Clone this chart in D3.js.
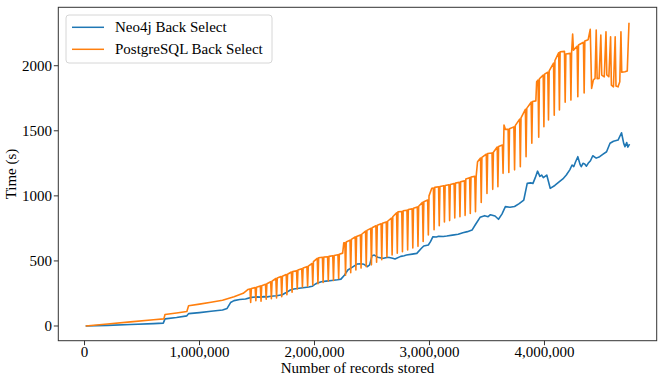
<!DOCTYPE html>
<html>
<head>
<meta charset="utf-8">
<script src="https://cdn.jsdelivr.net/npm/d3@7"></script>
<style>
  html, body { margin: 0; padding: 0; background: #fff; }
  svg text { font-family: "Liberation Serif", "DejaVu Serif", serif; fill: #000; }
</style>
</head>
<body>
<div id="chart"></div>
<script>
// records stored (thousands) vs time (s)
var neo4jBack = [
  [10,0],[200,5],[400,12],[600,18],[685,22],[700,55],[800,65],[890,78],[905,95],[1000,103],
  [1100,113],[1200,123],[1240,135],[1270,180],[1300,195],[1350,203],[1400,207],[1450,220],
  [1500,224],[1530,222],[1560,226],[1590,224],[1620,228],[1670,233],[1720,240],[1750,255],
  [1790,277],[1820,284],[1850,288],[1900,294],[1950,300],[1980,305],[2000,318],[2020,328],
  [2060,340],[2100,345],[2150,350],[2200,355],[2230,360],[2260,390],[2290,430],[2330,452],
  [2370,476],[2400,478],[2430,474],[2460,456],[2480,470],[2500,540],[2520,545],[2550,528],
  [2580,522],[2600,520],[2630,527],[2650,526],[2680,520],[2700,515],[2750,535],[2780,540],
  [2800,545],[2850,552],[2890,558],[2930,597],[2950,615],[2990,622],[3010,650],[3030,686],
  [3060,684],[3080,690],[3120,688],[3150,691],[3200,698],[3250,705],[3290,717],[3330,725],
  [3370,737],[3400,780],[3440,835],[3460,842],[3480,848],[3510,840],[3530,855],[3570,845],
  [3600,820],[3630,860],[3660,917],[3700,912],[3740,918],[3780,940],[3820,968],[3850,1096],
  [3880,1100],[3900,1096],[3920,1140],[3940,1190],[3960,1150],[3975,1160],[3990,1140],
  [4020,1160],[4050,1058],[4090,1080],[4130,1109],[4160,1130],[4190,1160],[4220,1200],
  [4240,1237],[4255,1225],[4270,1260],[4290,1301],[4310,1240],[4320,1224],[4335,1250],
  [4350,1245],[4365,1228],[4380,1250],[4400,1270],[4420,1308],[4450,1290],[4480,1301],
  [4510,1320],[4540,1339],[4570,1404],[4600,1420],[4640,1429],[4670,1485],[4690,1400],
  [4700,1378],[4715,1410],[4725,1375],[4740,1398]
];

var postgresBack = [
  [10,0],[200,15],[400,32],[600,48],[690,55],[700,88],[800,100],[890,112],[905,155],[1000,168],
  [1100,182],[1200,198],[1300,225],[1380,251],[1420,280],
  [1439,285],[1445,180],[1451,288],[1484,295],[1490,195],[1496,298],[1529,308],[1535,190],[1541,310],
  [1574,320],[1580,205],[1586,325],[1619,340],[1625,210],[1631,345],[1664,365],[1670,215],[1676,368],
  [1709,380],[1715,225],[1721,382],[1754,395],[1760,240],[1766,398],[1799,415],[1805,260],[1811,418],
  [1844,425],[1850,285],[1856,430],[1889,440],[1895,300],[1901,445],[1934,456],[1940,305],[1946,460],
  [1979,480],[1985,315],[1991,495],[2024,520],[2030,325],[2036,525],[2069,528],[2075,335],[2081,530],
  [2114,532],[2120,345],[2126,535],[2159,540],[2165,350],[2171,542],[2204,548],[2210,365],[2216,552],
  [2245,560],[2255,640],
  [2264,640],[2270,390],[2276,645],[2309,660],[2315,410],[2321,665],[2354,685],[2360,430],[2366,688],
  [2399,700],[2405,445],[2411,705],[2444,730],[2450,455],[2456,735],[2489,750],[2495,470],[2501,755],
  [2534,770],[2540,490],[2546,775],[2579,785],[2585,510],[2591,790],[2624,800],[2630,530],[2636,805],
  [2669,830],[2675,545],[2681,840],[2714,870],[2720,560],[2726,878],[2759,880],[2765,570],[2771,885],
  [2804,890],[2810,585],[2816,895],[2849,900],[2855,600],[2861,905],[2894,915],[2900,612],[2906,920],
  [2939,950],[2945,650],[2951,955],[2984,968],[2990,700],[2996,1000],[3020,1058],
  [3034,1060],[3040,740],[3046,1065],[3079,1070],[3085,770],[3091,1072],[3124,1078],[3130,800],[3136,1080],
  [3169,1085],[3175,810],[3181,1088],[3214,1095],[3220,830],[3226,1098],[3259,1105],[3265,840],[3271,1108],
  [3304,1115],[3310,850],[3316,1130],[3349,1140],[3355,865],[3361,1145],[3394,1150],[3400,878],[3406,1150],
  [3418,1262],
  [3444,1290],[3450,950],[3456,1295],[3494,1320],[3500,1019],[3506,1325],[3544,1330],[3550,1050],[3556,1335],
  [3589,1375],[3595,1070],[3601,1380],[3634,1390],[3640,1173],[3648,1544],[3660,1511],
  [3684,1511],[3690,1180],[3696,1515],[3734,1530],[3740,1200],[3746,1540],[3784,1590],[3790,1224],[3796,1600],
  [3834,1665],[3840,1300],[3846,1672],[3884,1720],[3890,1404],[3896,1725],[3925,1730],[3932,1877],
  [3944,1890],[3950,1450],[3956,1900],[3989,1928],[3995,1531],[4001,1935],[4029,1950],[4035,1583],[4041,1960],
  [4079,2020],[4085,1620],[4091,2040],[4124,2100],[4130,1660],[4136,2107],[4174,2110],[4180,1720],[4186,2090],
  [4224,2095],[4230,1736],[4236,2100],[4245,2243],[4252,2120],[4284,2150],[4290,1762],[4296,2159],
  [4339,2180],[4345,1790],[4351,2190],[4380,2200],[4398,2280],
  [4410,1826],[4425,1890],[4440,1903],[4450,2274],[4458,1900],[4475,1903],[4490,2236],[4498,1928],
  [4520,1915],[4535,2261],[4542,1930],[4560,1915],[4575,2222],[4582,1851],[4600,1838],[4615,2222],
  [4622,1845],[4640,1838],[4655,1877],[4665,2261],[4672,1950],[4700,1954],[4720,1960],[4735,2330]
];

var seriesNames = ["Neo4j Back Select", "PostgreSQL Back Select"];
var seriesColors = ["#1f77b4", "#ff7f0e"];
var xTicks = [0, 1000, 2000, 3000, 4000];
var yTicks = [0, 500, 1000, 1500, 2000];

var W = 665, H = 383;
var box = { left: 58.3, right: 656.7, top: 7.3, bottom: 340.7 };

var x = d3.scaleLinear().domain([-228, 4976]).range([box.left, box.right]);
var y = d3.scaleLinear().domain([-113, 2449]).range([box.bottom, box.top]);

var svg = d3.select("#chart").append("svg")
    .attr("width", W)
    .attr("height", H);

var line = d3.line()
    .x(function(d) { return x(d[0]); })
    .y(function(d) { return y(d[1]); });

var plot = svg.append("g");

[neo4jBack, postgresBack].forEach(function(data, i) {
  plot.append("path")
      .datum(data)
      .attr("d", line)
      .attr("fill", "none")
      .attr("stroke", seriesColors[i])
      .attr("stroke-width", 1.6)
      .attr("stroke-linejoin", "round");
});

// frame
svg.append("rect")
    .attr("x", box.left).attr("y", box.top)
    .attr("width", box.right - box.left).attr("height", box.bottom - box.top)
    .attr("fill", "none").attr("stroke", "#333").attr("stroke-width", 1);

// x axis
var fmt = d3.format(",");
var xAxis = svg.append("g");
xTicks.forEach(function(t) {
  xAxis.append("line")
      .attr("x1", x(t)).attr("x2", x(t))
      .attr("y1", box.bottom).attr("y2", box.bottom + 4.5)
      .attr("stroke", "#333");
  xAxis.append("text")
      .attr("x", x(t)).attr("y", 357)
      .attr("text-anchor", "middle")
      .style("font-size", "15px")
      .text(fmt(t * 1000));
});
svg.append("text")
    .attr("x", (box.left + box.right) / 2).attr("y", 373)
    .attr("text-anchor", "middle")
    .style("font-size", "15px")
    .text("Number of records stored");

// y axis
var yAxis = svg.append("g");
yTicks.forEach(function(t) {
  yAxis.append("line")
      .attr("x1", box.left - 4.5).attr("x2", box.left)
      .attr("y1", y(t)).attr("y2", y(t))
      .attr("stroke", "#333");
  yAxis.append("text")
      .attr("x", 52).attr("y", y(t))
      .attr("dy", "0.33em")
      .attr("text-anchor", "end")
      .style("font-size", "15px")
      .text(t);
});
svg.append("text")
    .attr("transform", "translate(16," + ((box.top + box.bottom) / 2) + ") rotate(-90)")
    .attr("text-anchor", "middle")
    .style("font-size", "15px")
    .text("Time (s)");

// legend
var legend = svg.append("g");
legend.append("rect")
    .attr("x", 66).attr("y", 15).attr("width", 206).attr("height", 48)
    .attr("rx", 3).attr("fill", "#fff").attr("fill-opacity", 0.8)
    .attr("stroke", "#d6d6d6");
seriesNames.forEach(function(name, i) {
  var ly = 27.3 + i * 22;
  legend.append("line")
      .attr("x1", 72).attr("x2", 104)
      .attr("y1", ly).attr("y2", ly)
      .attr("stroke", seriesColors[i]).attr("stroke-width", 1.5);
  legend.append("text")
      .attr("x", 115).attr("y", ly)
      .attr("dy", "0.33em")
      .style("font-size", "15px")
      .text(name);
});
</script>
</body>
</html>
